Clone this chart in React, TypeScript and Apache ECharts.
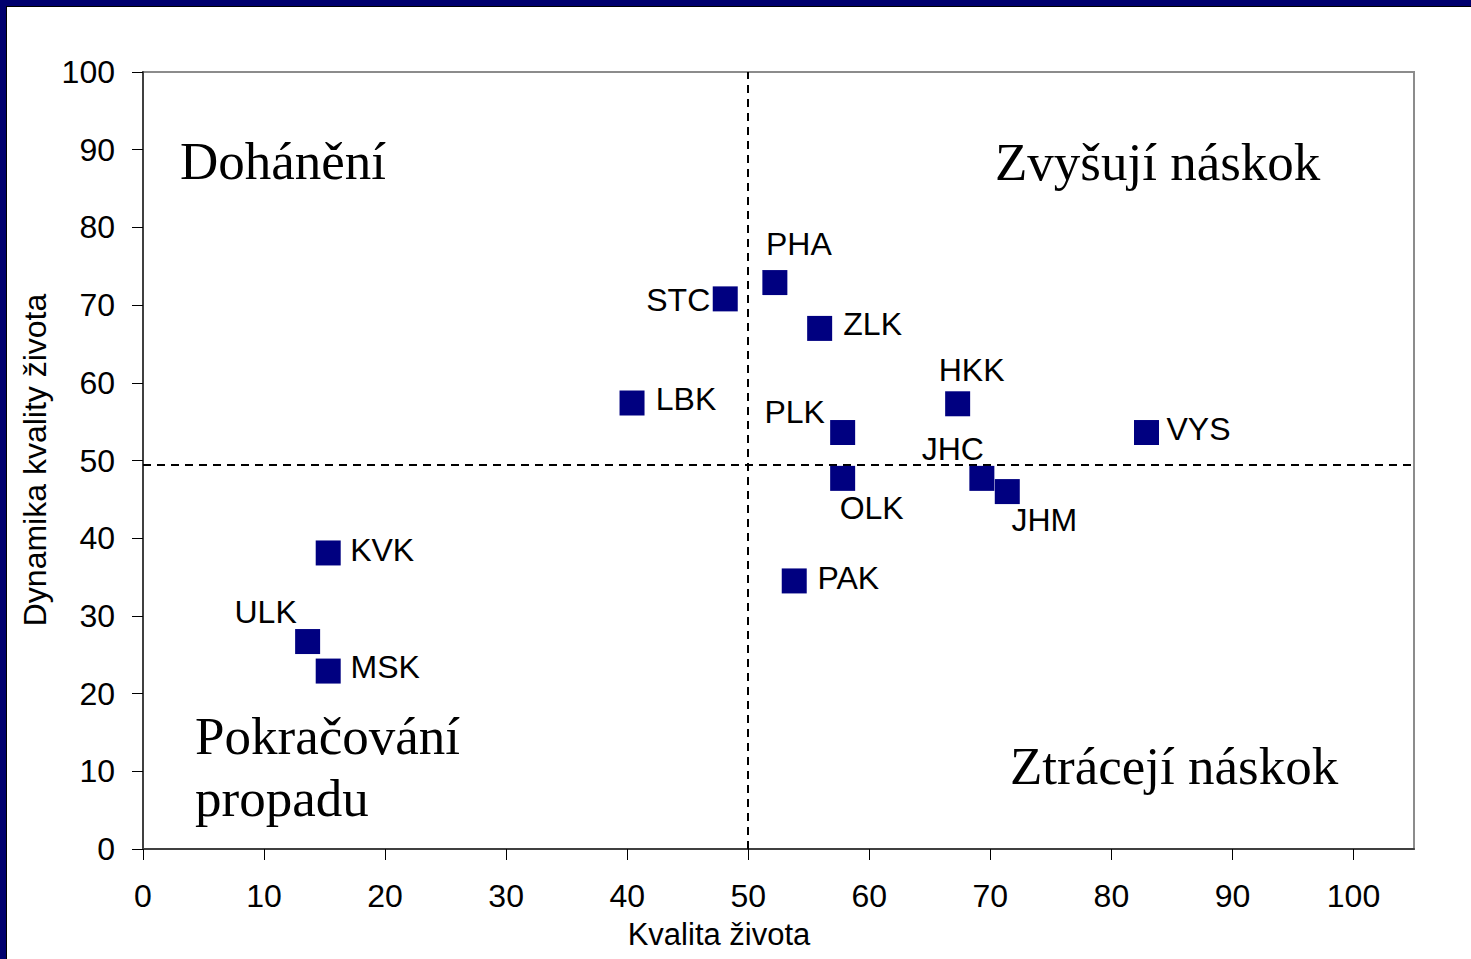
import React, { useEffect, useRef } from "react";
import * as echarts from "echarts";

// ---- data ----
const regions = ["STC", "PHA", "ZLK", "LBK", "HKK", "PLK", "VYS", "OLK", "JHC", "JHM", "PAK", "KVK", "ULK", "MSK"];
const qualityOfLife = [48.1, 52.2, 55.9, 40.4, 67.3, 57.8, 82.9, 57.8, 69.3, 71.4, 53.8, 15.3, 13.6, 15.3];
const dynamics = [70.8, 72.9, 67.0, 57.4, 57.3, 53.6, 53.6, 47.7, 47.7, 46.0, 34.5, 38.1, 26.7, 22.9];
const xTicks = [0, 10, 20, 30, 40, 50, 60, 70, 80, 90, 100];
const yTicks = [0, 10, 20, 30, 40, 50, 60, 70, 80, 90, 100];
const xDivider = 50;
const yDivider = 49.5;
const xTitle = "Kvalita života";
const yTitle = "Dynamika kvality života";
const quadrantTopLeft = "Dohánění";
const quadrantTopRight = "Zvyšují náskok";
const quadrantBottomLeft = ["Pokračování", "propadu"];
const quadrantBottomRight = "Ztrácejí náskok";

// label placement (style only)
const labelOffsets: Record<string, [number, number]> = {
  STC: [-47, 1],
  PHA: [24, -39],
  ZLK: [53, -4],
  LBK: [54, -4],
  HKK: [14, -34],
  PLK: [-48, -21],
  VYS: [52, -4],
  OLK: [29, 30],
  JHC: [-29, -29],
  JHM: [37, 28],
  PAK: [54, -3],
  KVK: [54, -3],
  ULK: [-42, -30],
  MSK: [57, -4],
};

const SANS = "'Liberation Sans', Arial, sans-serif";
const SERIF = "'Liberation Serif', 'Times New Roman', serif";

export default function App() {
  const ref = useRef<HTMLDivElement>(null);
  useEffect(() => {
    if (!ref.current) return;
    const chart = echarts.init(ref.current, null, { renderer: "svg" });
    const data = regions.map((name, i) => ({
      name,
      value: [qualityOfLife[i], dynamics[i]],
      label: { offset: labelOffsets[name] || [0, 0] },
    }));
    chart.setOption({
      animation: false,
      backgroundColor: "#ffffff",
      grid: {
        left: 143,
        top: 72,
        width: 1271,
        height: 777,
        show: true,
        borderColor: "#8c8c8c",
        borderWidth: 2,
        backgroundColor: "#ffffff",
        containLabel: false,
      },
      xAxis: {
        type: "value",
        min: 0,
        max: 105,
        interval: 10,
        splitLine: { show: false },
        axisLine: { show: true, lineStyle: { color: "#404040", width: 2 } },
        axisTick: { show: true, length: 11, customValues: xTicks, lineStyle: { color: "#000", width: 1 } },
        axisLabel: {
          customValues: xTicks,
          margin: 31,
          fontSize: 32,
          color: "#000",
          fontFamily: SANS,
          formatter: (v: number) => (v > 100 ? "" : String(v)),
        },
      },
      yAxis: {
        type: "value",
        min: 0,
        max: 100,
        interval: 10,
        splitLine: { show: false },
        axisLine: { show: true, lineStyle: { color: "#404040", width: 2 } },
        axisTick: { show: true, length: 11, customValues: yTicks, lineStyle: { color: "#000", width: 1 } },
        axisLabel: {
          customValues: yTicks,
          margin: 28,
          fontSize: 32,
          color: "#000",
          fontFamily: SANS,
        },
      },
      series: [
        {
          type: "scatter",
          symbol: "rect",
          symbolSize: 25,
          itemStyle: { color: "#000080", opacity: 1 },
          label: {
            show: true,
            position: "inside",
            formatter: "{b}",
            fontSize: 32,
            color: "#000",
            opacity: 1,
            fontFamily: SANS,
          },
          data,
          markLine: {
            silent: true,
            symbol: ["none", "none"],
            label: { show: false },
            lineStyle: { color: "#000", width: 2, type: [8, 6], opacity: 1 },
            data: [{ xAxis: xDivider }, { yAxis: yDivider }],
          },
          z: 5,
        },
      ],
      graphic: [
        { type: "rect", shape: { x: 0, y: 0, width: 7, height: 959 }, style: { fill: "#00006e" }, z: 100 },
        { type: "rect", shape: { x: 0, y: 0, width: 1471, height: 6 }, style: { fill: "#00006e" }, z: 100 },
        { type: "rect", shape: { x: 6, y: 6, width: 1, height: 953 }, style: { fill: "#000" }, z: 101 },
        { type: "rect", shape: { x: 6, y: 6, width: 1465, height: 1 }, style: { fill: "#000" }, z: 101 },
        {
          type: "text",
          x: 180,
          y: 161,
          style: { text: quadrantTopLeft, font: `53px ${SERIF}`, fill: "#000", align: "left", verticalAlign: "middle" },
          z: 50,
        },
        {
          type: "text",
          x: 995,
          y: 162,
          style: { text: quadrantTopRight, font: `53px ${SERIF}`, fill: "#000", align: "left", verticalAlign: "middle" },
          z: 50,
        },
        {
          type: "text",
          x: 195,
          y: 736,
          style: { text: quadrantBottomLeft[0], font: `53px ${SERIF}`, fill: "#000", align: "left", verticalAlign: "middle" },
          z: 50,
        },
        {
          type: "text",
          x: 195,
          y: 798,
          style: { text: quadrantBottomLeft[1], font: `53px ${SERIF}`, fill: "#000", align: "left", verticalAlign: "middle" },
          z: 50,
        },
        {
          type: "text",
          x: 1010,
          y: 766,
          style: { text: quadrantBottomRight, font: `53px ${SERIF}`, fill: "#000", align: "left", verticalAlign: "middle" },
          z: 50,
        },
        {
          type: "text",
          x: 719,
          y: 934,
          style: { text: xTitle, font: `31px ${SANS}`, fill: "#000", align: "center", verticalAlign: "middle" },
          z: 50,
        },
        {
          type: "text",
          x: 35,
          y: 460,
          rotation: Math.PI / 2,
          style: { text: yTitle, font: `32px ${SANS}`, fill: "#000", align: "center", verticalAlign: "middle" },
          z: 50,
        },
      ],
    });
    return () => chart.dispose();
  }, []);
  return <div ref={ref} style={{ position: "absolute", left: 0, top: 0, width: 1471, height: 959 }} />;
}
